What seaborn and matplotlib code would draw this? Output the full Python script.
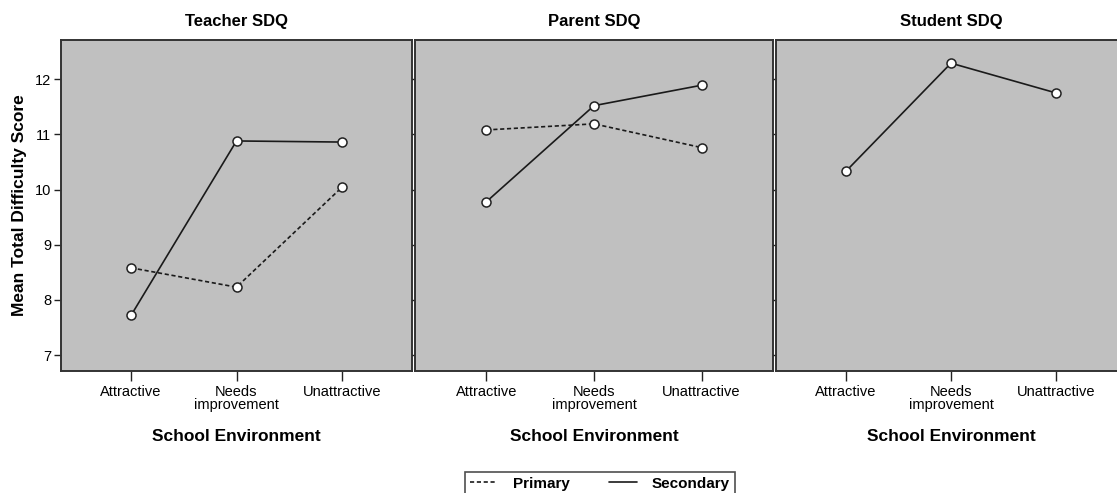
import matplotlib
matplotlib.use("Agg")
import matplotlib.pyplot as plt
from matplotlib.lines import Line2D
import seaborn as sns
import pandas as pd

panels = ["Teacher SDQ", "Parent SDQ", "Student SDQ"]
environments = ["Attractive", "Needs\nimprovement", "Unattractive"]
teacher_primary = [8.58, 8.23, 10.04]
teacher_secondary = [7.72, 10.88, 10.86]
parent_primary = [11.08, 11.19, 10.76]
parent_secondary = [9.78, 11.52, 11.89]
student_secondary = [10.33, 12.29, 11.75]
yticks = [7, 8, 9, 10, 11, 12]

series = {
    "Teacher SDQ": {"Primary": teacher_primary, "Secondary": teacher_secondary},
    "Parent SDQ": {"Primary": parent_primary, "Secondary": parent_secondary},
    "Student SDQ": {"Secondary": student_secondary},
}

rows = []
for p in panels:
    for school, vals in series[p].items():
        for env, v in zip(environments, vals):
            rows.append({"panel": p, "env": env, "school": school, "score": v})
df = pd.DataFrame(rows)

sns.set_theme(style="white")
plt.rcParams["font.family"] = ["Liberation Sans", "DejaVu Sans"]
plt.rcParams["text.color"] = "black"
plt.rcParams["axes.labelcolor"] = "black"
plt.rcParams["xtick.color"] = "black"
plt.rcParams["ytick.color"] = "black"

W, H = 1117, 493
fig = plt.figure(figsize=(W / 100, H / 100), dpi=100)

px = [(61, 412), (415, 773), (776, 1126)]
top, bottom = 40, 371
dash_map = {"Primary": (2.5, 1.6), "Secondary": ""}
edge = "#222222"

for i, (p, (x0, x1)) in enumerate(zip(panels, px)):
    ax = fig.add_axes([x0 / W, 1 - bottom / H, (x1 - x0) / W, (bottom - top) / H])
    ax.set_facecolor("#c0c0c0")
    sub = df[df["panel"] == p]
    sns.lineplot(data=sub, x="env", y="score", style="school",
                 dashes=dash_map, markers={"Primary": "o", "Secondary": "o"},
                 color="#1a1a1a", linewidth=1.2, markersize=6.5,
                 markerfacecolor="white", markeredgecolor=edge,
                 markeredgewidth=1.1, legend=False, sort=False, ax=ax)
    ax.set_xlim(-0.665, 2.665)
    ax.set_ylim(6.71, 12.71)
    ax.set_yticks(yticks)
    ax.set_xticks(range(len(environments)))
    ax.set_xticklabels(environments, fontsize=10.5, linespacing=0.95)
    ax.tick_params(axis="x", bottom=True, length=7, width=1, color="#222222", pad=3)
    if i == 0:
        ax.set_yticklabels([str(t) for t in yticks], fontsize=10.5)
        ax.tick_params(axis="y", left=True, length=5, width=1, color="#222222", pad=2)
        ax.set_ylabel("Mean Total Difficulty Score", fontsize=12.5,
                      fontweight="bold", labelpad=6)
    else:
        ax.set_yticklabels([])
        ax.tick_params(axis="y", left=True, length=2, width=1, color="#222222")
        ax.set_ylabel("")
    ax.set_xlabel("School Environment", fontsize=12.5, fontweight="bold", labelpad=12)
    for s in ax.spines.values():
        s.set_color("#333333")
        s.set_linewidth(1.4)
    ax.set_title(p, fontsize=12, fontweight="bold", pad=10)

handles = [
    Line2D([], [], color="#1a1a1a", linestyle=(0, (2.5, 1.6)), linewidth=1.2),
    Line2D([], [], color="#1a1a1a", linestyle="-", linewidth=1.2),
]
leg = fig.legend(handles, ["Primary", "Secondary"], loc="upper center",
                 bbox_to_anchor=(600 / W, 1 - 472 / H), ncol=2, frameon=True,
                 fancybox=False, edgecolor="#222222", handlelength=1.8,
                 columnspacing=2.6, borderpad=0.3, borderaxespad=0.0,
                 handletextpad=1.0, prop={"weight": "bold", "size": 11})
leg.get_frame().set_linewidth(1.2)

fig.savefig("out.png", dpi=100, facecolor="white")
